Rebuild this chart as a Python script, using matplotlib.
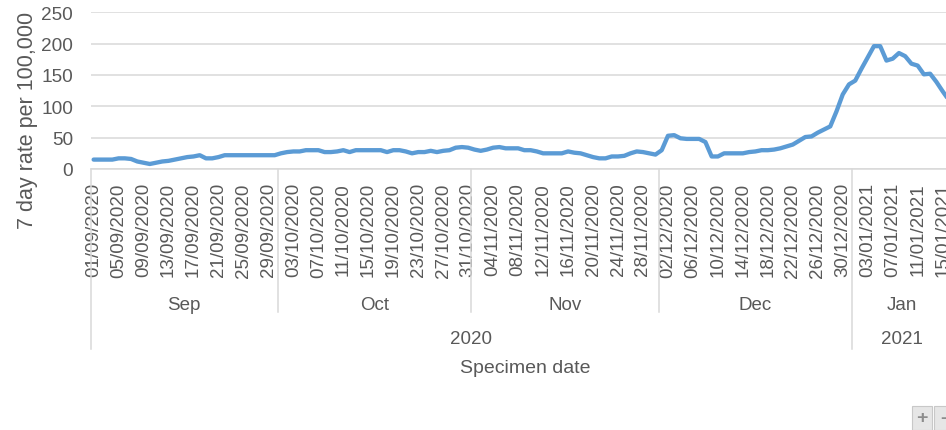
import matplotlib
matplotlib.use("Agg")
import matplotlib.pyplot as plt
import matplotlib.transforms as mtransforms
from matplotlib.lines import Line2D
from matplotlib.patches import Rectangle
import numpy as np
import pandas as pd

plt.rcParams['font.family'] = ['Liberation Sans', 'DejaVu Sans']

# 7 day case rate per 100,000 by specimen date, 1 Sep 2020 - 16 Jan 2021
start_date = "2020-09-01"
rate_sep = [15, 15, 15, 15, 17, 17, 16, 12, 10, 8, 10, 12, 13, 15, 17, 19, 20, 22,
            17, 17, 19, 22, 22, 22, 22, 22, 22, 22, 22, 22]
rate_oct = [25, 27, 28, 28, 30, 30, 30, 27, 27, 28, 30, 27, 30, 30, 30, 30, 30, 27,
            30, 30, 28, 25, 27, 27, 29, 27, 29, 30, 34, 35, 34]
rate_nov = [31, 29, 31, 34, 35, 33, 33, 33, 30, 30, 28, 25, 25, 25, 25, 28, 26, 25,
            22, 19, 17, 17, 20, 20, 21, 25, 28, 27, 25, 23]
rate_dec = [30, 53, 54, 49, 48, 48, 48, 43, 20, 20, 25, 25, 25, 25, 27, 28, 30, 30,
            31, 33, 36, 39, 45, 51, 52, 58, 63, 68, 92, 119, 135]
rate_jan = [141, 160, 178, 196, 196, 173, 176, 185, 180, 168, 165, 151, 152, 139,
            124, 110]

month_names = ["Sep", "Oct", "Nov", "Dec", "Jan"]
year_names = ["2020", "2021"]
y_ticks = [0, 50, 100, 150, 200, 250]
label_step = 4

rates = rate_sep + rate_oct + rate_nov + rate_dec + rate_jan
dates = pd.date_range(start_date, periods=len(rates), freq="D")
n = len(rates)
xpos = np.arange(n) + 0.5

W, H = 946, 431
GRID = "#D9D9D9"
TEXT = "#595959"
LINE = "#5B9BD5"

fig = plt.figure(figsize=(W / 100, H / 100), dpi=100)
fig.patch.set_facecolor("white")


def fy(py):
    """Figure fraction for a pixel row counted from the top."""
    return 1 - py / H


ax = fig.add_axes([90.5 / W, fy(170), (952 - 90.5) / W, (170 - 13.3) / H])
ax.plot(xpos, rates, color=LINE, lw=3.1, solid_joinstyle="round",
        solid_capstyle="round", zorder=3)

ax.set_xlim(0, n)
ax.set_ylim(0, 250)
ax.set_yticks(y_ticks)
ax.yaxis.grid(True, color=GRID, lw=1.1)
ax.set_axisbelow(True)
for side in ("top", "right", "left"):
    ax.spines[side].set_visible(False)
ax.spines["bottom"].set_color(GRID)
ax.spines["bottom"].set_linewidth(1.1)
ax.tick_params(axis="y", length=0, pad=12.5, labelsize=13.7, labelcolor=TEXT)

tick_idx = np.arange(0, n, label_step)
ax.set_xticks(xpos[tick_idx])
ax.set_xticklabels(dates[tick_idx].strftime("%d/%m/%Y"), rotation=90)
ax.tick_params(axis="x", length=0, pad=9.5, labelsize=13.5, labelcolor=TEXT)

# Multi-level category axis: months and years under the dates
blend = mtransforms.blended_transform_factory(ax.transData, fig.transFigure)
bounds = [0] + [i for i in range(1, n) if dates[i].month != dates[i - 1].month] + [n]
year_bounds = [0] + [i for i in range(1, n) if dates[i].year != dates[i - 1].year] + [n]

for b in bounds[:-1]:
    bottom = 350 if b in year_bounds else 313
    fig.add_artist(Line2D([b, b], [fy(170), fy(bottom)], transform=blend,
                          color=GRID, lw=1.1, clip_on=False))

for name, a, b in zip(month_names, bounds[:-1], bounds[1:]):
    fig.text((a + b) / 2, fy(305), name, transform=blend, ha="center",
             va="center", fontsize=13.5, color=TEXT)
for name, a, b in zip(year_names, year_bounds[:-1], year_bounds[1:]):
    fig.text((a + b) / 2, fy(340), name, transform=blend, ha="center",
             va="center", fontsize=13.5, color=TEXT)

fig.text(525 / W, fy(369), "Specimen date", ha="center", va="center",
         fontsize=14, color=TEXT)
fig.text(27.5 / W, fy(120), "7 day rate per 100,000", rotation=90,
         ha="center", va="center", fontsize=15.5, color=TEXT)

# Field buttons in the bottom-right corner
fig.add_artist(Rectangle((912 / W, fy(431)), 20 / W, 24 / H,
                         transform=fig.transFigure, facecolor="#E6E6E6",
                         edgecolor="#C8C8C8", lw=0.8))
fig.add_artist(Rectangle((934 / W, fy(431)), 20 / W, 24 / H,
                         transform=fig.transFigure, facecolor="#E6E6E6",
                         edgecolor="#C8C8C8", lw=0.8))
fig.text(922 / W, fy(419), "+", ha="center", va="center", fontsize=14,
         color="#8C8C8C", fontweight="bold")
fig.text(943 / W, fy(419), "-", ha="center", va="center", fontsize=14,
         color="#8C8C8C", fontweight="bold")

fig.savefig("out.png", dpi=100, facecolor="white")
